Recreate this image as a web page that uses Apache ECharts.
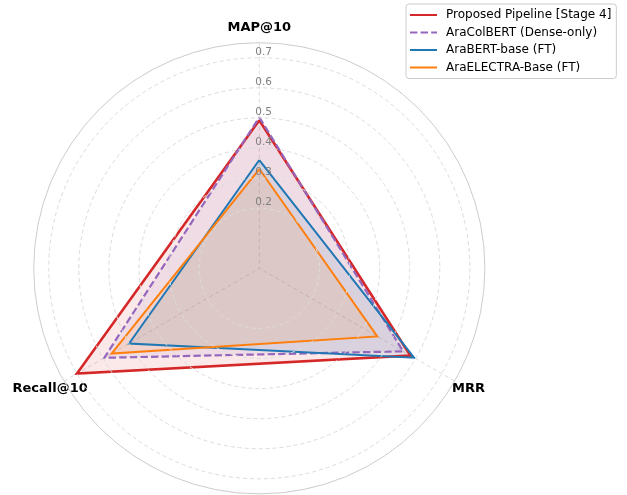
<!DOCTYPE html>
<html>
<head>
<meta charset="utf-8">
<script src="https://cdn.jsdelivr.net/npm/echarts@6/dist/echarts.min.js"></script>
<style>
html,body{margin:0;padding:0;background:#fff;}
#chart{width:627px;height:495px;}
</style>
</head>
<body>
<div id="chart"></div>
<script>
const categories = ['MAP@10', 'MRR', 'Recall@10'];
const seriesNames = ['Proposed Pipeline [Stage 4]', 'AraColBERT (Dense-only)', 'AraBERT-base (FT)', 'AraELECTRA-Base (FT)'];
const proposedValues = [0.492, 0.580, 0.700];
const colbertValues = [0.502, 0.552, 0.595];
const arabertValues = [0.360, 0.594, 0.500];
const electraValues = [0.330, 0.453, 0.567];
const radialTickLabels = [0.2, 0.3, 0.4, 0.5, 0.6, 0.7];

const angleStep = 360 / categories.length;
function closedRing(values) {
  const pts = values.map((v, i) => [v, i * angleStep]);
  pts.push([values[0], 360]);
  return pts;
}
const FONT = 'DejaVu Sans';
const colors = ['#d62728', '#9467bd', '#1f77b4', '#ff7f0e'];
const widths = [2.6, 2.2, 2, 2];
const dashes = ['solid', [7.4, 3.2], 'solid', 'solid'];
const valueSets = [proposedValues, colbertValues, arabertValues, electraValues];

const chart = echarts.init(document.getElementById('chart'), null, {renderer: 'canvas'});
const gridColor = '#dcdcdc';
chart.setOption({
  animation: false,
  backgroundColor: '#fff',
  polar: { center: [259.3, 268.3], radius: 225.6 },
  angleAxis: {
    type: 'value', min: 0, max: 360, interval: angleStep, startAngle: 90, clockwise: true,
    axisLine: { show: true, lineStyle: { color: '#cccccc', width: 1 } },
    axisTick: { show: false },
    splitLine: { show: true, lineStyle: { color: gridColor, type: [4, 3], width: 1 } },
    axisLabel: {
      margin: -45.6,
      formatter: function (v) {
        const idx = Math.round(v / angleStep);
        if (idx >= categories.length) return '';
        return (idx === 0 ? '{t|' : '{s|') + categories[idx] + '}';
      },
      rich: {
        t: { fontFamily: FONT, fontSize: 13, fontWeight: 'bold', color: '#000', align: 'center', lineHeight: 16, padding: [0, 0, 105.6, 0] },
        s: { fontFamily: FONT, fontSize: 13, fontWeight: 'bold', color: '#000', align: 'center', width: 106.6, lineHeight: 16, padding: [44.7, 0, 0, 0] }
      }
    }
  },
  radiusAxis: {
    type: 'value', min: 0, max: 0.75, interval: 0.1,
    axisLine: { show: false },
    axisTick: { show: false },
    splitLine: { show: true, lineStyle: { color: ['rgba(0,0,0,0)', 'rgba(0,0,0,0)', gridColor, gridColor, gridColor, gridColor, gridColor, gridColor, 'rgba(0,0,0,0)'], type: [4, 3], width: 1 } },
    axisLabel: {
      inside: true,
      margin: 4,
      align: 'left',
      verticalAlign: 'bottom',
      fontFamily: FONT, fontSize: 10.5, color: '#808080',
      formatter: function (v) {
        return radialTickLabels.some(t => Math.abs(t - v) < 1e-6) ? v.toFixed(1) : '';
      }
    },
    z: 5
  },
  legend: {
    left: 406, top: 4, orient: 'vertical',
    backgroundColor: '#fff', borderColor: '#cccccc', borderWidth: 1, borderRadius: 3,
    padding: [5, 5, 5, 3],
    itemWidth: 27, itemHeight: 14, itemGap: 5.5,
    itemStyle: { opacity: 0 },
    textStyle: { fontFamily: FONT, fontSize: 12, color: '#000', padding: [0, 0, 0, 4] },
    data: seriesNames
  },
  series: valueSets.map((vals, i) => ({
    name: seriesNames[i],
    type: 'line',
    coordinateSystem: 'polar',
    data: closedRing(vals),
    symbol: 'none',
    showSymbol: false,
    clip: false,
    lineStyle: { color: colors[i], width: widths[i], type: dashes[i], join: 'miter' },
    itemStyle: { color: colors[i] },
    areaStyle: { color: colors[i], opacity: 0.1 }
  }))
});
</script>
</body>
</html>
